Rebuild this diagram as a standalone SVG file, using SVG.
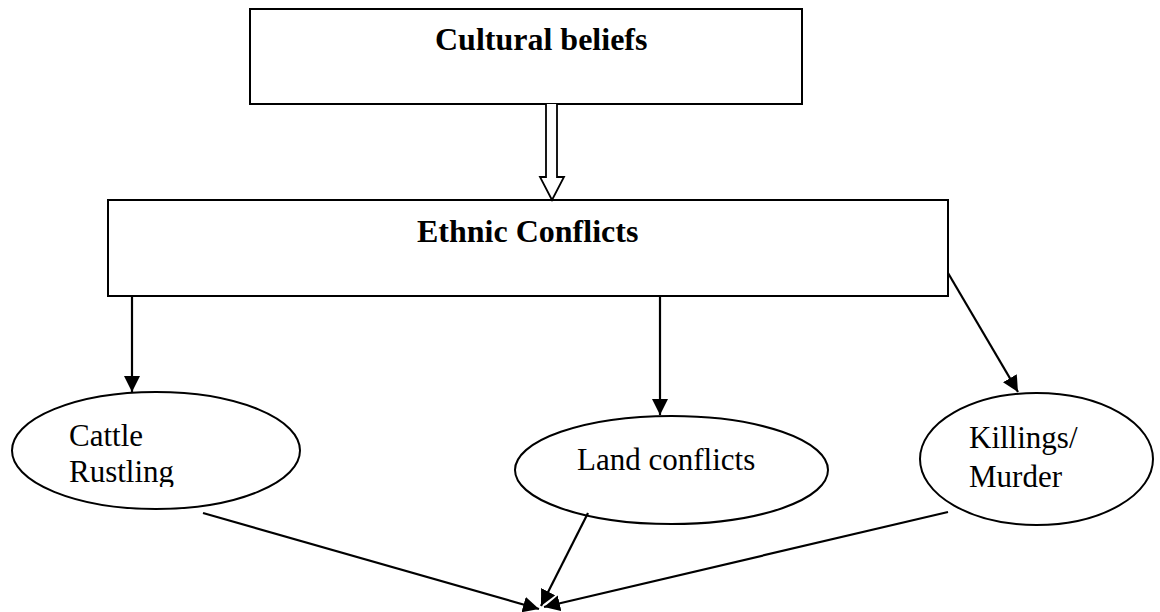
<svg xmlns="http://www.w3.org/2000/svg" width="1160" height="612" viewBox="0 0 1160 612">
<style>
.box{fill:#fff;stroke:#000;stroke-width:2}
.ell{fill:#fff;stroke:#000;stroke-width:2}
.lbl{font-family:"Liberation Serif","Times New Roman",serif;font-size:31px;fill:#000}
.bold{font-family:"Liberation Serif","Times New Roman",serif;font-size:32px;font-weight:bold;fill:#000}
.edge{stroke:#000;stroke-width:2.2;fill:none;marker-end:url(#ah)}
</style>
<defs>
<marker id="ah" markerUnits="userSpaceOnUse" markerWidth="17" markerHeight="17" refX="16" refY="8" orient="auto" viewBox="0 0 17 17">
<path d="M0,0 L16,8 L0,16 Z" fill="#000"/>
</marker>
<clipPath id="clipC"><rect x="0" y="380" width="320" height="107"/></clipPath>
</defs>
<rect width="1160" height="612" fill="#fff"/>
<g id="cultural-beliefs">
<rect class="box" x="250" y="9" width="552" height="95"/>
<text class="bold" x="435" y="50">Cultural beliefs</text>
</g>
<g id="ethnic-conflicts">
<rect class="box" x="108" y="200" width="840" height="96"/>
<text class="bold" x="417" y="242">Ethnic Conflicts</text>
</g>
<g id="cattle-rustling">
<ellipse class="ell" cx="156" cy="450.5" rx="144" ry="58.5"/>
<g clip-path="url(#clipC)">
<text class="lbl" x="69" y="446">Cattle</text>
<text class="lbl" x="69" y="482">Rustling</text>
</g>
</g>
<g id="land-conflicts">
<ellipse class="ell" cx="671.5" cy="470" rx="156.5" ry="54"/>
<text class="lbl" x="577" y="470">Land conflicts</text>
</g>
<g id="killings-murder">
<ellipse class="ell" cx="1036.5" cy="459" rx="116.5" ry="66"/>
<text class="lbl" x="969" y="448">Killings/</text>
<text class="lbl" x="969" y="487">Murder</text>
</g>
<g id="connectors">
<path d="M546,104 L546,177 L540,177 L552,200 L564,177 L557,177 L557,104" fill="#fff" stroke="#000" stroke-width="1.8" stroke-linejoin="miter"/>
<line class="edge" x1="132" y1="296" x2="132" y2="392"/>
<line class="edge" x1="660" y1="296" x2="660" y2="415"/>
<line class="edge" x1="948" y1="273" x2="1018" y2="392"/>
<line class="edge" x1="203" y1="513" x2="539" y2="609"/>
<line class="edge" x1="588" y1="513" x2="541" y2="606"/>
<line class="edge" x1="948" y1="512" x2="544" y2="607"/>
</g>
</svg>
